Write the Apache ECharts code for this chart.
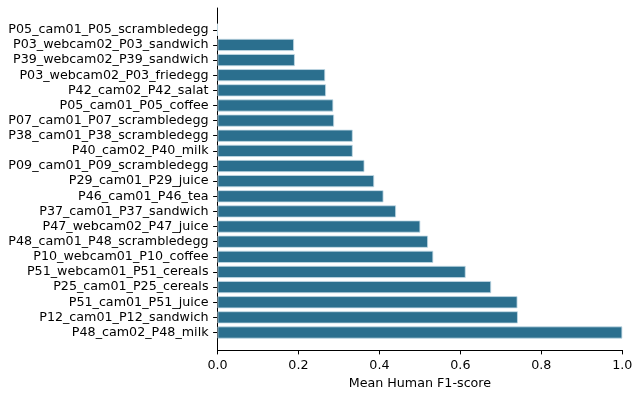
<!DOCTYPE html>
<html>
<head>
<meta charset="utf-8">
<script src="https://cdn.jsdelivr.net/npm/echarts@6/dist/echarts.min.js"></script>
<style>html,body{margin:0;padding:0;background:#fff}#c{width:638px;height:395px}</style>
</head>
<body>
<div id="c"></div>
<script>
const categories = [
  "P05_cam01_P05_scrambledegg",
  "P03_webcam02_P03_sandwich",
  "P39_webcam02_P39_sandwich",
  "P03_webcam02_P03_friedegg",
  "P42_cam02_P42_salat",
  "P05_cam01_P05_coffee",
  "P07_cam01_P07_scrambledegg",
  "P38_cam01_P38_scrambledegg",
  "P40_cam02_P40_milk",
  "P09_cam01_P09_scrambledegg",
  "P29_cam01_P29_juice",
  "P46_cam01_P46_tea",
  "P37_cam01_P37_sandwich",
  "P47_webcam02_P47_juice",
  "P48_cam01_P48_scrambledegg",
  "P10_webcam01_P10_coffee",
  "P51_webcam01_P51_cereals",
  "P25_cam01_P25_cereals",
  "P51_cam01_P51_juice",
  "P12_cam01_P12_sandwich",
  "P48_cam02_P48_milk"
];
const values = [0.0, 0.189, 0.191, 0.266, 0.268, 0.286, 0.288, 0.334, 0.334, 0.363, 0.387, 0.410, 0.441, 0.501, 0.520, 0.533, 0.613, 0.676, 0.741, 0.742, 1.0];
const xTicks = [0, 0.2, 0.4, 0.6, 0.8, 1.0];
const xLabel = "Mean Human F1-score";

const font = "DejaVu Sans";
const fs = 12.7;
const chart = echarts.init(document.getElementById('c'), null, {renderer: 'canvas'});
const n = categories.length;
const gTop = 8, gBottom = 40.7;
const plotH = 395 - gTop - gBottom;
const span = (n - 1 + 0.8) * 1.1;
const unit = plotH / span;
const marginPx = (0.05 * (n - 1 + 0.8) + 0.4) * unit;
const innerTop = gTop + marginPx - unit / 2;
const innerBottom = gBottom + marginPx - unit / 2;

chart.setOption({
  animation: false,
  grid: [
    {left: 217.5, right: 15.7, top: gTop, bottom: gBottom, containLabel: false},
    {left: 217.5, right: 15.7, top: innerTop, bottom: innerBottom, containLabel: false}
  ],
  xAxis: [
    {
      type: 'value', gridIndex: 0, min: 0, max: 1, interval: 0.2,
      axisLine: {show: true, lineStyle: {color: '#000', width: 1}},
      axisTick: {show: true, length: 4.4, lineStyle: {color: '#000', width: 1}},
      axisLabel: {color: '#000', fontFamily: font, fontSize: fs, margin: 9,
        formatter: v => { const t = xTicks.find(x => Math.abs(x - v) < 1e-9); return t === undefined ? '' : t.toFixed(1); }},
      splitLine: {show: false},
      name: xLabel, nameLocation: 'middle', nameGap: 27,
      nameTextStyle: {color: '#000', fontFamily: font, fontSize: fs}
    },
    {type: 'value', gridIndex: 1, min: 0, max: 1, show: false}
  ],
  yAxis: [
    {
      type: 'value', gridIndex: 0, min: 0, max: 1,
      axisLine: {show: true, lineStyle: {color: '#000', width: 1}},
      axisTick: {show: false}, axisLabel: {show: false}, splitLine: {show: false}
    },
    {
      type: 'category', gridIndex: 1, data: categories, inverse: true,
      axisLine: {show: false},
      axisTick: {show: true, alignWithLabel: true, length: 4.4, lineStyle: {color: '#000', width: 1}},
      axisLabel: {color: '#000', fontFamily: font, fontSize: fs, margin: 9, interval: 0},
      splitLine: {show: false}
    }
  ],
  series: [{
    type: 'bar', xAxisIndex: 1, yAxisIndex: 1, data: values,
    barWidth: '80%',
    itemStyle: {color: '#2b6f8e', borderColor: '#c4dbe6', borderWidth: 0.8}
  }]
});
</script>
</body>
</html>
